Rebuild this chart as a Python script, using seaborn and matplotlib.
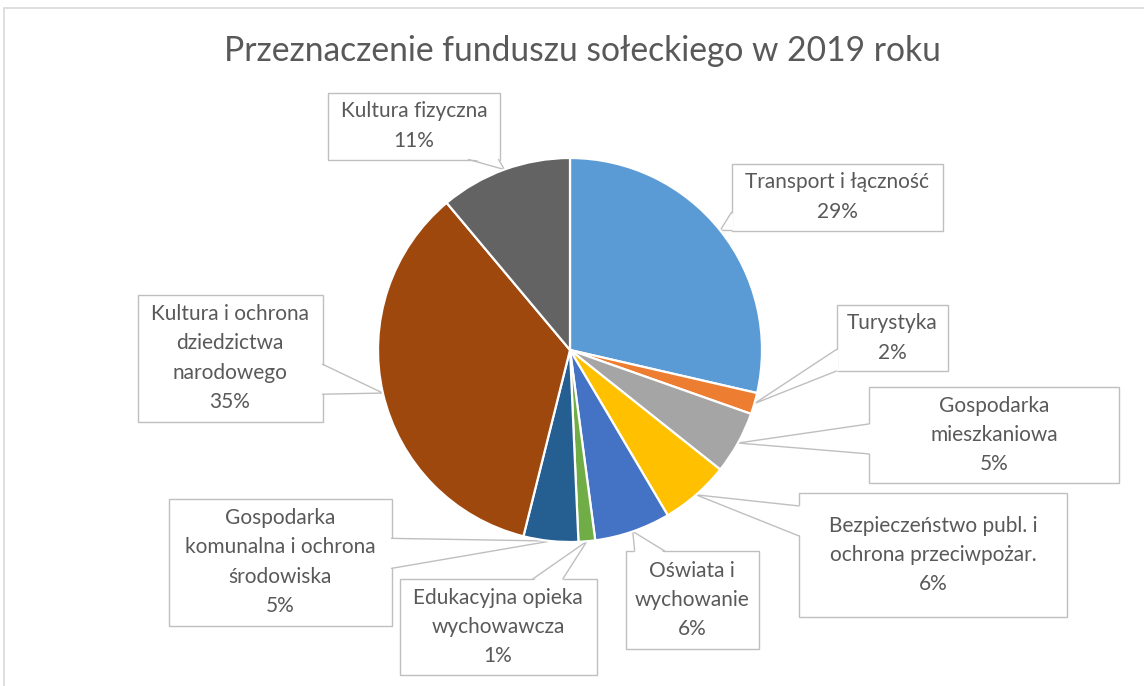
import matplotlib.pyplot as plt
import numpy as np
import seaborn as sns
from matplotlib.lines import Line2D
from matplotlib.patches import Polygon, Rectangle

# Data (shares in %, clockwise from 12 o'clock)
categories = [
    "Transport i łączność",
    "Turystyka",
    "Gospodarka\nmieszkaniowa",
    "Bezpieczeństwo publ. i\nochrona przeciwpożar.",
    "Oświata i\nwychowanie",
    "Edukacyjna opieka\nwychowawcza",
    "Gospodarka\nkomunalna i ochrona\nśrodowiska",
    "Kultura i ochrona\ndziedzictwa\nnarodowego",
    "Kultura fizyczna",
]
values = [28.6, 1.8, 5.3, 5.8, 6.4, 1.4, 4.6, 35.0, 11.1]
colors = ["#5B9BD5", "#ED7D31", "#A5A5A5", "#FFC000", "#4472C4",
          "#70AD47", "#255E91", "#9E480E", "#636363"]
title = "Przeznaczenie funduszu sołeckiego w 2019 roku"

# Callout boxes: centre x, centre y (pixels from top left), width, height
label_boxes = [
    (837, 197, 211, 67),
    (892, 338, 111, 66),
    (994, 435, 250, 96),
    (933, 555, 268, 124),
    (692, 600, 133, 98),
    (498, 627, 197, 96),
    (280, 562, 223, 127),
    (230, 358, 185, 127),
    (414, 126, 172, 67),
]

W, H = 1144, 686
TEXT_COLOR = "#595959"
EDGE_COLOR = "#BFBFBF"

sns.set_theme(style="white")
plt.rcParams["font.family"] = ["Lato", "DejaVu Sans"]


def draw_callout(ax, text, box, anchor, half_base=15):
    """Draw an Excel-like callout: box, wedge pointer to anchor, text."""
    cx, cy, bw, bh = box
    cy = H - cy
    hw, hh = bw / 2, bh / 2
    ax.add_patch(Rectangle((cx - hw, cy - hh), bw, bh, facecolor="white",
                           edgecolor=EDGE_COLOR, linewidth=1.0, zorder=0.6))

    dx, dy = anchor[0] - cx, anchor[1] - cy
    tx = hw / abs(dx) if dx else np.inf
    ty = hh / abs(dy) if dy else np.inf
    if tx < ty:
        # pointer leaves through a vertical edge
        ex = cx + np.sign(dx) * hw
        ey = cy + dy * tx
        lo, hi = max(ey - half_base, cy - hh), min(ey + half_base, cy + hh)
        base = [(ex, lo), (ex, hi)]
        inner = [(ex - np.sign(dx) * 2, lo), (ex - np.sign(dx) * 2, hi)]
    else:
        # pointer leaves through a horizontal edge
        ey = cy + np.sign(dy) * hh
        ex = cx + dx * ty
        lo, hi = max(ex - half_base, cx - hw), min(ex + half_base, cx + hw)
        base = [(lo, ey), (hi, ey)]
        inner = [(lo, ey - np.sign(dy) * 2), (hi, ey - np.sign(dy) * 2)]

    ax.add_patch(Polygon([inner[0], anchor, inner[1]], closed=True,
                         facecolor="white", edgecolor="none", zorder=0.7))
    ax.plot([base[0][0], anchor[0], base[1][0]],
            [base[0][1], anchor[1], base[1][1]],
            color=EDGE_COLOR, linewidth=1.0, zorder=0.7)
    ax.text(cx, cy, text, ha="center", va="center", fontsize=15,
            color=TEXT_COLOR, linespacing=1.59, zorder=3)


fig = plt.figure(figsize=(W / 100, H / 100), dpi=100)
ax = fig.add_axes([0, 0, 1, 1])

center = (570, H - 350)
radius = 192
wedges, _ = ax.pie(
    values,
    colors=colors,
    startangle=90,
    counterclock=False,
    center=center,
    radius=radius,
    wedgeprops=dict(edgecolor="white", linewidth=1.6, zorder=1),
)
ax.set_xlim(0, W)
ax.set_ylim(0, H)
ax.axis("off")

total = sum(values)
for wedge, cat, val, box in zip(wedges, categories, values, label_boxes):
    mid = np.deg2rad((wedge.theta1 + wedge.theta2) / 2)
    anchor = (center[0] + radius * np.cos(mid), center[1] + radius * np.sin(mid))
    draw_callout(ax, f"{cat}\n{val / total:.0%}", box, anchor)

fig.text(582 / W, 1 - 51 / H, title, ha="center", va="center",
         fontsize=24.2, color=TEXT_COLOR)

# chart area border (top and left edges visible in the crop)
fig.add_artist(Line2D([4 / W, 4 / W], [0, 1 - 8 / H], transform=fig.transFigure,
                      color="#D9D9D9", linewidth=1.2))
fig.add_artist(Line2D([4 / W, 1], [1 - 8 / H, 1 - 8 / H], transform=fig.transFigure,
                      color="#D9D9D9", linewidth=1.2))

fig.savefig("out.png", dpi=100)
